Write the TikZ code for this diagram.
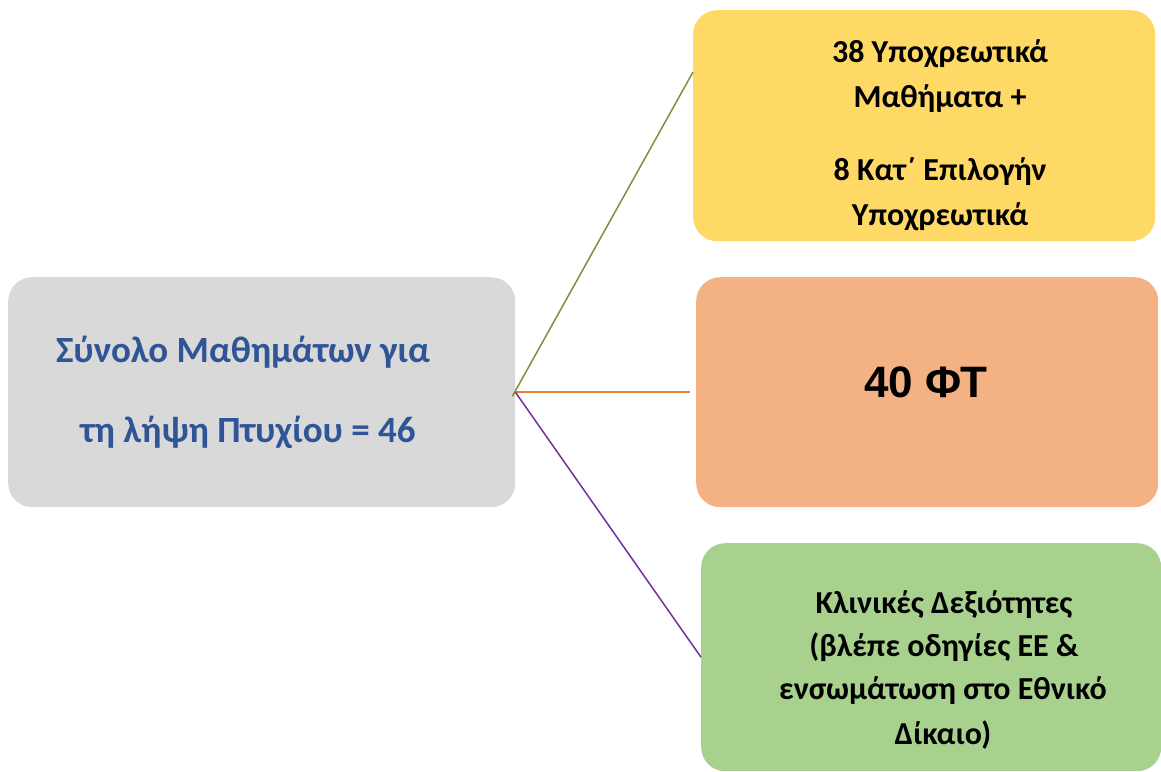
\documentclass[tikz,border=0pt]{standalone}
\usepackage{fontspec}
\setmainfont{Carlito}
\newfontfamily\arialf{Liberation Sans}
\usetikzlibrary{calc}
\definecolor{boxgrey}{HTML}{D9D9D9}
\definecolor{boxyellow}{HTML}{FFD966}
\definecolor{boxorange}{HTML}{F4B183}
\definecolor{boxgreen}{HTML}{A9D18E}
\definecolor{txtblue}{HTML}{2F5597}
\definecolor{lnolive}{HTML}{77933C}
\definecolor{lnorange}{HTML}{ED7D31}
\definecolor{lnpurple}{HTML}{7030A0}
\begin{document}
\begin{tikzpicture}[x=1pt,y=-1pt,
  box/.style={rounded corners=24pt, inner sep=0pt, anchor=north west, draw=none},
  txt/.style={anchor=base, inner sep=0pt, font=\fontsize{32}{38}\selectfont\bfseries},
  bigtxt/.style={anchor=base, inner sep=0pt, text=txtblue, font=\fontsize{37}{43}\selectfont\bfseries},
  conn/.style={line width=1.5pt}]
\useasboundingbox (0,0) rectangle (1161,771);
% boxes
\node[box, fill=boxgrey, minimum width=507pt, minimum height=230pt] (grey) at (8,277) {};
\node[box, fill=boxyellow, minimum width=462pt, minimum height=231pt] (yel) at (693,10) {};
\node[box, fill=boxorange, minimum width=462pt, minimum height=230pt] (org) at (696,277) {};
\node[box, fill=boxgreen, minimum width=460pt, minimum height=228pt] (grn) at (701,543) {};
% connectors
\coordinate (yend) at ($(yel.north west)!0.268!(yel.south west)$);
\draw[conn, lnolive] (grey.east) ++(-3,4) coordinate (hubg) (hubg) -- (yend);
\draw[conn, lnorange] (grey.east) -- (org.west -| 690,0) coordinate (oend);
\draw[conn, lnpurple] (grey.east) -- (grn.west);
% grey text
\node[bigtxt] (g1) at (243,362) {Σύνολο Μαθημάτων για};
\node[bigtxt] (g2) at (248,442) {τη λήψη Πτυχίου = 46};
% yellow text
\node[txt] (y1) at (940,62) {38 Υποχρεωτικά};
\node[txt] (y2) at (940,107) {Μαθήματα +};
\node[txt] (y3) at (940,180) {8 Κατ΄ Επιλογήν};
\node[txt] (y4) at (940,225) {Υποχρεωτικά};
% orange text
\node[anchor=base, inner sep=0pt, font=\arialf\fontsize{44}{50}\selectfont\bfseries] (o1) at (926,397) {40 ΦΤ};
% green text
\node[txt] (n1) at (944,613) {Κλινικές Δεξιότητες};
\node[txt] (n2) at (944,656) {(βλέπε οδηγίες ΕΕ \&};
\node[txt] (n3) at (943,699) {ενσωμάτωση στο Εθνικό};
\node[txt] (n4) at (943,744) {Δίκαιο)};
\end{tikzpicture}
\end{document}
